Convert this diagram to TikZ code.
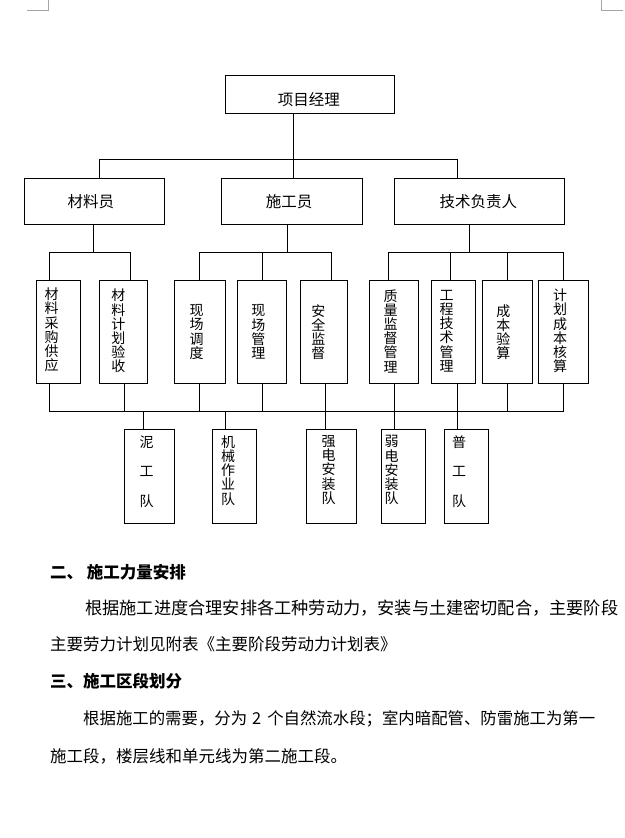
\documentclass[tikz,border=0pt]{standalone}
\usepackage{fontspec}
\setmainfont{Noto Sans CJK SC}
\usetikzlibrary{calc}
\begin{document}
\begin{tikzpicture}[x=1pt,y=-1pt,line width=1pt,
  box/.style={draw=black,rectangle,inner sep=0pt},
  lbl/.style={font=\fontsize{15.5}{16}\selectfont,inner sep=0pt},
  vlbl/.style={font=\fontsize{14}{14.2}\selectfont,align=center,inner sep=0pt},
  wlbl/.style={font=\fontsize{14}{29.5}\selectfont,align=center,inner sep=0pt},
  para/.style={font=\fontsize{16.5}{18}\selectfont,anchor=west,inner sep=0pt},
  head/.style={font=\fontsize{16.5}{18}\selectfont\bfseries,anchor=west,inner sep=0pt},
  cornermark/.style={draw=black!35,line width=0.8pt}
]
\fill[white] (0,0) rectangle (624,838);
\useasboundingbox (0,0) rectangle (624,838);

% corner marks
\coordinate (cl1) at (27,10.3); \coordinate (cl2) at (48.3,10.3); \coordinate (cl3) at (48.3,0);
\coordinate (cr1) at (601.3,0); \coordinate (cr2) at (601.3,10.3); \coordinate (cr3) at (622.7,10.3);
\draw[cornermark] (cl1) -- (cl2) -- (cl3);
\draw[cornermark] (cr1) -- (cr2) -- (cr3);

% level 1
\node[box,minimum width=169pt,minimum height=38.3pt] (pm) at (309.8,94.2) {};
\node[lbl] (pmt) at (308.8,99.3) {项目经理};

% level 2
\node[box,minimum width=140pt,minimum height=45.7pt] (mat) at (94.3,201.2) {};
\node[box,minimum width=141pt,minimum height=45.7pt] (con) at (291.8,201.2) {};
\node[box,minimum width=170pt,minimum height=45.7pt] (tech) at (479.3,201.2) {};
\node[lbl] (matt) at (90.8,201.7) {材料员};
\node[lbl] (cont) at (289,201.7) {施工员};
\node[lbl] (techt) at (478.3,201.7) {技术负责人};

% level 3
\node[box,minimum width=44pt,minimum height=103pt] (a1) at (58.3,331.8) {};
\node[box,minimum width=48pt,minimum height=103pt] (a2) at (123.3,331.8) {};
\node[box,minimum width=51pt,minimum height=103pt] (b1) at (199.8,331.8) {};
\node[box,minimum width=49.4pt,minimum height=103pt] (b2) at (262,331.8) {};
\node[box,minimum width=47.3pt,minimum height=103pt] (b3) at (323.7,331.8) {};
\node[box,minimum width=49pt,minimum height=103pt] (c1) at (393.8,331.8) {};
\node[box,minimum width=44pt,minimum height=103pt] (c2) at (453.3,331.8) {};
\node[box,minimum width=50pt,minimum height=103pt] (c3) at (507.3,331.8) {};
\node[box,minimum width=50pt,minimum height=103pt] (c4) at (563.3,331.8) {};
\node[vlbl] (a1t) at (51.7,330) {材\\料\\采\\购\\供\\应};
\node[vlbl] (a2t) at (118.3,331) {材\\料\\计\\划\\验\\收};
\node[vlbl] (b1t) at (196.7,332) {现\\场\\调\\度};
\node[vlbl] (b2t) at (258.3,332) {现\\场\\管\\理};
\node[vlbl] (b3t) at (318.3,332) {安\\全\\监\\督};
\node[vlbl] (c1t) at (390.7,331) {质\\量\\监\\督\\管\\理};
\node[vlbl] (c2t) at (446.7,331) {工\\程\\技\\术\\管\\理};
\node[vlbl] (c3t) at (503.3,332) {成\\本\\验\\算};
\node[vlbl] (c4t) at (560,331) {计\\划\\成\\本\\核\\算};

% level 4
\node[box,minimum width=50pt,minimum height=94pt] (d1) at (149.3,476.3) {};
\node[box,minimum width=44pt,minimum height=94pt] (d2) at (234.3,476.3) {};
\node[box,minimum width=50pt,minimum height=94pt] (d3) at (331.3,476.3) {};
\node[box,minimum width=44pt,minimum height=94pt] (d4) at (403.3,476.3) {};
\node[box,minimum width=44pt,minimum height=94pt] (d5) at (466.3,476.3) {};
\node[wlbl,anchor=north] (d1t) at (146.7,435) {泥\\工\\队};
\node[vlbl,anchor=north] (d2t) at (228,435) {机\\械\\作\\业\\队};
\node[vlbl,anchor=north] (d3t) at (328.7,435) {强\\电\\安\\装\\队};
\node[vlbl,anchor=north] (d4t) at (391.7,435) {弱\\电\\安\\装\\队};
\node[wlbl,anchor=north] (d5t) at (459,435) {普\\工\\队};

% connectors level 1 -> 2
\coordinate (busA) at (293.3,159.3);
\coordinate (busL) at (99.3,159.3);
\coordinate (busR) at (457.5,159.3);
\draw (busA |- pm.south) -- (busA |- con.north);
\draw (busL |- mat.north) -- (busL) -- (busR) -- (busR |- tech.north);

% connectors level 2 -> 3
\coordinate (m0) at (93.3,252.3);
\coordinate (mL) at (49.3,252.3);
\coordinate (mR) at (130.3,252.3);
\draw (m0 |- mat.south) -- (m0);
\draw (mL |- a1.north) -- (mL) -- (mR) -- (mR |- a2.north);

\coordinate (n0) at (287.3,252.3);
\coordinate (nL) at (199.3,252.3);
\coordinate (nM) at (262.3,252.3);
\coordinate (nR) at (331.7,252.3);
\draw (n0 |- con.south) -- (n0);
\draw (nL |- b1.north) -- (nL) -- (nR) -- (nR |- b3.north);
\draw (nM) -- (nM |- b2.north);

\coordinate (t0) at (469.3,252.3);
\coordinate (tL) at (388.3,252.3);
\coordinate (t2) at (450.3,252.3);
\coordinate (t3) at (507.3,252.3);
\coordinate (tR) at (563.3,252.3);
\draw (t0 |- tech.south) -- (t0);
\draw (tL |- c1.north) -- (tL) -- (tR) -- (tR |- c4.north);
\draw (t2) -- (t2 |- c2.north);
\draw (t3) -- (t3 |- c3.north);

% connectors level 3 -> bottom bus
\coordinate (q1) at (49.3,411.3);
\coordinate (q2) at (124.3,411.3);
\coordinate (q3) at (199.3,411.3);
\coordinate (q4) at (262.3,411.3);
\coordinate (q5) at (325.4,411.3);
\coordinate (q6) at (394.3,411.3);
\coordinate (q7) at (457.3,411.3);
\coordinate (q8) at (507.3,411.3);
\coordinate (q9) at (563.3,411.3);
\draw (q1 |- a1.south) -- (q1) -- (q9) -- (q9 |- c4.south);
\draw (q2 |- a2.south) -- (q2);
\draw (q3 |- b1.south) -- (q3);
\draw (q4 |- b2.south) -- (q4);
\draw (q5 |- b3.south) -- (q5);
\draw (q6 |- c1.south) -- (q6);
\draw (q7 |- c2.south) -- (q7);
\draw (q8 |- c3.south) -- (q8);

% bottom bus -> level 4
\coordinate (r1) at (143.3,411.3);
\coordinate (r2) at (225.3,411.3);
\draw (r1) -- (r1 |- d1.north);
\draw (r2) -- (r2 |- d2.north);
\draw (q5) -- (q5 |- d3.north);
\draw (q6) -- (q6 |- d4.north);
\draw (q7) -- (q7 |- d5.north);

% text below
\node[head] (h2) at (49.6,572) {二、 施工力量安排};
\node[para,font=\fontsize{17.2}{18}\selectfont] (p1) at (84.7,608) {根据施工进度合理安排各工种劳动力，安装与土建密切配合，主要阶段};
\node[para] (p2) at (49.6,644) {主要劳力计划见附表《主要阶段劳动力计划表》};
\node[head] (h3) at (49.6,681) {三、施工区段划分};
\node[para,font=\fontsize{16.4}{18}\selectfont] (p3) at (82.7,719) {根据施工的需要，分为\hspace{5pt}2\hspace{6pt}个自然流水段；室内暗配管、防雷施工为第一};
\node[para] (p4) at (49.6,756) {施工段，楼层线和单元线为第二施工段。};
\end{tikzpicture}
\end{document}
